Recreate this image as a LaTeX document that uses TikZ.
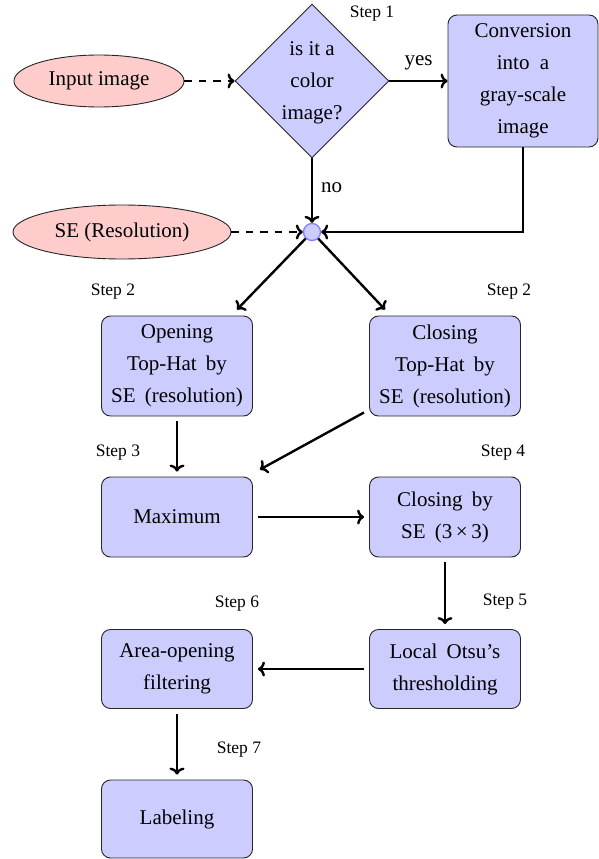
\documentclass[tikz,border=0pt]{standalone}
\usepackage{fontspec}
\setmainfont{Liberation Serif}
\usetikzlibrary{shapes.geometric,arrows.meta,calc}
\begin{document}
\begin{tikzpicture}[x=1pt,y=-1pt,
  every node/.style={font=\rmfamily\fontsize{21}{32}\selectfont},
  procbox/.style={draw=black!85,line width=0.9pt,fill=blue!20,rounded corners=9pt,
    minimum width=151pt,inner sep=0pt,align=center},
  startell/.style={draw=black!85,line width=0.9pt,fill=red!20,ellipse,inner sep=0pt},
  steplbl/.style={font=\rmfamily\fontsize{17.5}{20}\selectfont,inner sep=0pt},
  edgelbl/.style={inner sep=0pt},
  flow/.style={line width=2.4pt,-{Computer Modern Rightarrow[length=7pt,width=15pt]}},
  gap/.style={shorten <=5pt,shorten >=5pt},
  dashline/.style={dash pattern=on 7.5pt off 7pt}
]
\useasboundingbox (0,0) rectangle (599,859);

% input ellipses
\node[startell,minimum width=170pt,minimum height=52pt] (input) at (99,81) {Input image};
\node[startell,minimum width=218pt,minimum height=54pt] (se) at (122,232) {SE (Resolution)};

% decision
\node[diamond,draw=black!85,line width=0.9pt,fill=blue!20,minimum width=154pt,minimum height=154pt,inner sep=0pt] (dia) at (312,81) {};
\node[align=center,inner sep=0pt] (diatext) at ($(dia.center)+(0,1.5)$) {is it a\\color\\image?};

% conversion
\node[procbox,minimum width=150pt,minimum height=132pt] (conv) at (523,81) {Conversion\\into\hspace{5pt} a\\gray-scale\\image};

% junction
\node[circle,draw=blue!50,fill=blue!20,line width=1.3pt,minimum size=17pt,inner sep=0pt] (circ) at (312,232) {};

% boxes
\node[procbox,minimum height=100pt] (open) at (177,366) {Opening\\Top-Hat\hspace{4pt} by\\SE\hspace{4pt} (resolution)};
\node[procbox,minimum height=100pt] (close) at (445,366) {Closing\\Top-Hat\hspace{4pt} by\\SE\hspace{4pt} (resolution)};
\node[procbox,minimum height=80pt] (max) at (177,517) {Maximum};
\node[procbox,minimum height=80pt] (closeby) at (445,517) {Closing\hspace{4pt} by\\SE\hspace{4pt} (3\,×\,3)};
\node[procbox,minimum height=79pt] (area) at (177,669) {Area-opening\\filtering};
\node[procbox,minimum height=79pt] (otsu) at (445,669) {Local\hspace{4pt} Otsu’s\\thresholding};
\node[procbox,minimum height=78pt] (label) at (177,819) {Labeling};

% step labels
\node[steplbl] (s1) at (372,14) {Step 1};
\node[steplbl] (s2a) at (113,292) {Step 2};
\node[steplbl] (s2b) at (509,292) {Step 2};
\node[steplbl] (s3) at (118,453) {Step 3};
\node[steplbl] (s4) at (503,453) {Step 4};
\node[steplbl] (s5) at (505,602) {Step 5};
\node[steplbl] (s6) at (237,604) {Step 6};
\node[steplbl] (s7) at (239,750) {Step 7};

% connectors
\draw[flow,dashline] (input) -- (dia.west);
\draw[flow,dashline] (se) -- (circ.west);
\draw[flow] (dia.east) -- (conv.west) node[edgelbl,pos=0.5,above=10pt] (yes) {yes};
\draw[flow] (dia.south) -- (circ.north) node[edgelbl,pos=0.45,right=8pt] (no) {no};
\draw[flow] (conv.south) |- (circ.east);
\draw[flow] (circ) -- ($(open.north)+(60,-6)$);
\draw[flow] (circ) -- ($(close.north)+(-60,-6)$);
\draw[flow,gap] (open.south) -- (max.north);
\draw[flow] ($(close.south west)+(-5,-4)$) -- ($(max.north east)+(7,-7)$);
\draw[flow,gap] (max.east) -- (closeby.west);
\draw[flow,gap] (closeby.south) -- (otsu.north);
\draw[flow,gap] (otsu.west) -- (area.east);
\draw[flow,gap] (area.south) -- (label.north);
\end{tikzpicture}
\end{document}
